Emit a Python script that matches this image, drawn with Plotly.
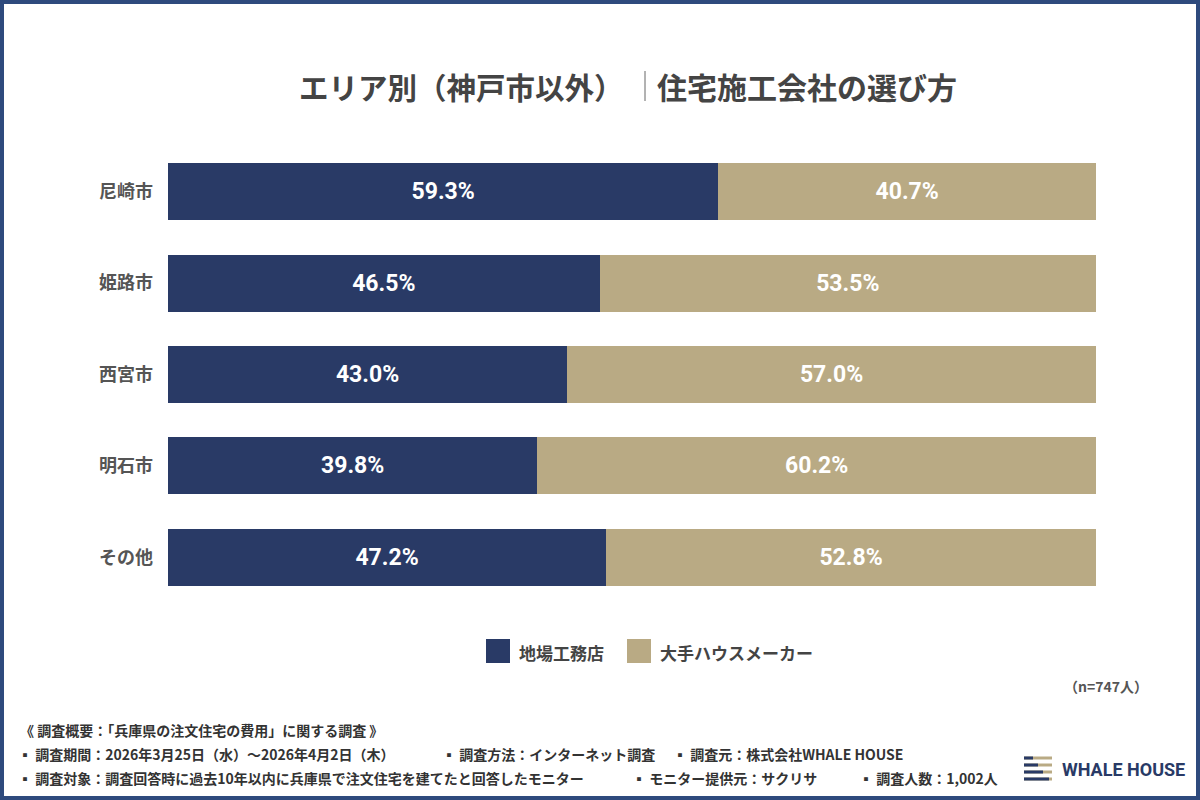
import plotly.graph_objects as go

categories = ["尼崎市", "姫路市", "西宮市", "明石市", "その他"]
local_builders = [59.3, 46.5, 43.0, 39.8, 47.2]
big_makers = [40.7, 53.5, 57.0, 60.2, 52.8]
series_names = ["地場工務店", "大手ハウスメーカー"]

NAVY = "#293a66"
TAN = "#b9aa84"
JP = "Noto Sans CJK JP"

fig = go.Figure()
for name, vals, col in [(series_names[0], local_builders, NAVY), (series_names[1], big_makers, TAN)]:
    fig.add_trace(go.Bar(
        y=categories, x=vals, name=name, orientation="h",
        marker=dict(color=col, line=dict(width=0)),
        text=[f"{v:.1f}%" for v in vals], textposition="inside", insidetextanchor="middle",
        textfont=dict(family="Roboto", size=23, color="white", weight="bold"),
        hoverinfo="skip", showlegend=False,
    ))

fig.update_layout(
    barmode="stack", bargap=0.375,
    width=1200, height=800,
    margin=dict(l=168, r=104, t=146, b=197),
    paper_bgcolor="white", plot_bgcolor="white",
    showlegend=False,
    xaxis=dict(range=[0, 100], visible=False, fixedrange=True),
    yaxis=dict(autorange="reversed", showgrid=False, zeroline=False, showline=False,
               ticks="", ticklabelstandoff=14,
               tickfont=dict(family=JP, size=18, color="#555", weight="bold")),
    font=dict(family=JP),
)

def px_x(x):
    return (x - 168) / 928
def px_y(y):
    return (603 - y) / 457

# Title
fig.add_annotation(text="エリア別（神戸市以外）", xref="paper", yref="paper",
                   x=px_x(626), y=px_y(86), xanchor="right", yanchor="middle", showarrow=False,
                   font=dict(family=JP, size=29.5, color="#444", weight="bold"))
fig.add_annotation(text="住宅施工会社の選び方", xref="paper", yref="paper",
                   x=px_x(655), y=px_y(86), xanchor="left", yanchor="middle", showarrow=False,
                   font=dict(family=JP, size=30, color="#444", weight="bold"))
fig.add_shape(type="line", xref="paper", yref="paper", x0=px_x(645), x1=px_x(645),
              y0=px_y(71), y1=px_y(101), line=dict(color="#666", width=1))

# Legend (custom, larger swatches)
legend_items = [(series_names[0], NAVY, 486), (series_names[1], TAN, 627)]
for name, col, x in legend_items:
    fig.add_shape(type="rect", xref="paper", yref="paper", x0=px_x(x), x1=px_x(x + 24),
                  y0=px_y(663), y1=px_y(639), fillcolor=col, line=dict(width=0))
    fig.add_annotation(text=name, xref="paper", yref="paper", x=px_x(x + 31), y=px_y(652),
                       xanchor="left", yanchor="middle", showarrow=False,
                       font=dict(family=JP, size=17, color="#444", weight="bold"))

fig.add_annotation(text="（n=747人）", xref="paper", yref="paper",
                   x=px_x(1150), y=px_y(686), xanchor="right", yanchor="middle", showarrow=False,
                   font=dict(family=JP, size=14, color="#555", weight="bold"))

foot = [
    ("《 調査概要：「兵庫県の注文住宅の費用」に関する調査 》", 18, 730),
    ("▪ 調査期間：2026年3月25日（水）～2026年4月2日（木）", 16, 754),
    ("▪ 調査方法：インターネット調査", 440, 754),
    ("▪ 調査元：株式会社WHALE HOUSE", 671, 754),
    ("▪ 調査対象：調査回答時に過去10年以内に兵庫県で注文住宅を建てたと回答したモニター", 16, 778),
    ("▪ モニター提供元：サクリサ", 630, 778),
    ("▪ 調査人数：1,002人", 857, 778),
]
for t, x, y in foot:
    fig.add_annotation(text=t, xref="paper", yref="paper", x=px_x(x), y=px_y(y),
                       xanchor="left", yanchor="middle", showarrow=False,
                       font=dict(family=JP, size=14, color="#333", weight="bold"))

# Logo
stripes = [(758, 1033), (765, 1038), (772, 1043), (779, 1049)]
for y, nav_end in stripes:
    fig.add_shape(type="rect", xref="paper", yref="paper", x0=px_x(1024), x1=px_x(1052),
                  y0=px_y(y + 1.5), y1=px_y(y - 1.5), fillcolor=TAN, line=dict(width=0))
    fig.add_shape(type="rect", xref="paper", yref="paper", x0=px_x(1024), x1=px_x(nav_end),
                  y0=px_y(y + 1.5), y1=px_y(y - 1.5), fillcolor=NAVY, line=dict(width=0))
fig.add_annotation(text="WHALE HOUSE", xref="paper", yref="paper", x=px_x(1060), y=px_y(769),
                   xanchor="left", yanchor="middle", showarrow=False,
                   font=dict(family="Roboto", size=18, color=NAVY, weight="bold"))

# Frame
fig.add_shape(type="rect", xref="paper", yref="paper", x0=px_x(2), x1=px_x(1198),
              y0=px_y(798), y1=px_y(2), line=dict(color="#2e4a7d", width=4), fillcolor="rgba(0,0,0,0)")

fig.write_html("out.html")
